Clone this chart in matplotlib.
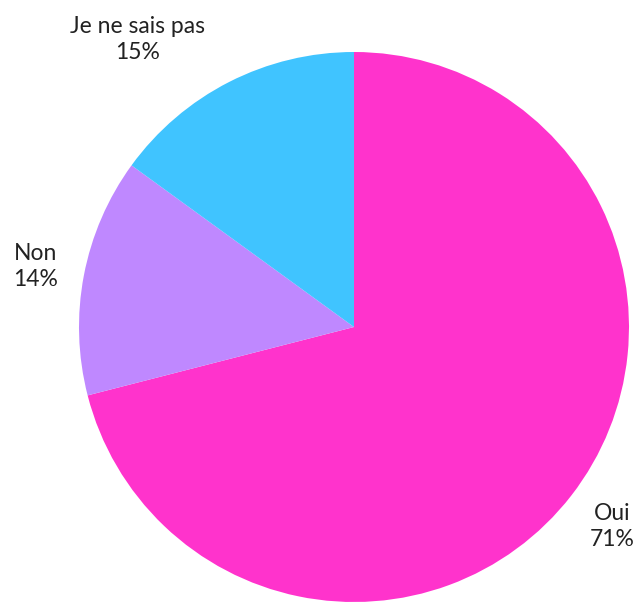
import numpy as np
import matplotlib.pyplot as plt

plt.rcParams['font.family'] = ['Lato', 'DejaVu Sans']

# Réponses du sondage
labels = ["Oui", "Non", "Je ne sais pas"]
values = [71, 14, 15]
colors = ["#FF33CC", "#BF88FF", "#40C4FF"]

# position des étiquettes : (décalage d'angle en degrés, distance relative au rayon)
label_pos = [(0, 1.186), (0, 1.18), (10, 1.31)]

W, H = 634, 603
cx, cy = 354, 327  # centre du camembert (px)
R = 275

fig = plt.figure(figsize=(W / 100, H / 100), dpi=100)
ax = fig.add_axes([0, 0, 1, 1])

wedges, _ = ax.pie(values, colors=colors, startangle=90, counterclock=False,
                   radius=R, center=(0, 0), frame=True,
                   wedgeprops=dict(linewidth=0))
ax.set_xlim(-cx, W - cx)
ax.set_ylim(-(H - cy), cy)
ax.set_aspect("equal")
ax.axis("off")

total = sum(values)
start = 0.0
for lab, v, (off, dist) in zip(labels, values, label_pos):
    mid = start + v / total * 360 / 2 - off  # angle horaire depuis le haut
    start += v / total * 360
    th = np.radians(mid)
    x = R * dist * np.sin(th)
    y = R * dist * np.cos(th)
    ax.text(x, y, f"{lab}\n{v}%", ha="center", va="center",
            fontsize=16.5, color="#222222", linespacing=1.3)

fig.savefig("out.png", dpi=100)
